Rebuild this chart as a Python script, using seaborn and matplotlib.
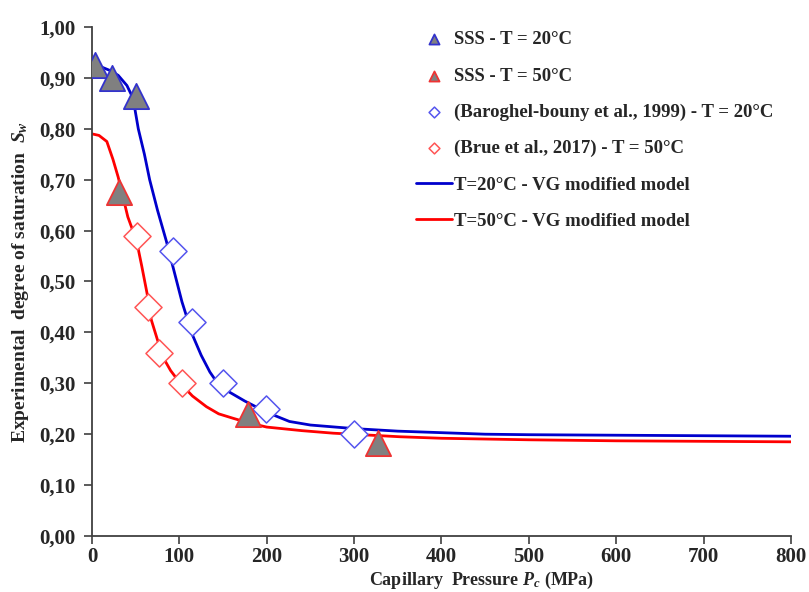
import numpy as np
import pandas as pd
import matplotlib.pyplot as plt
import matplotlib.ticker as mticker
import seaborn as sns

# ─── Data ─────────────────────────────────────────────────────────────────────
sss20_pc = [3, 23, 50]
sss20_sw = [0.925, 0.900, 0.865]

sss50_pc = [31, 178, 327]
sss50_sw = [0.675, 0.240, 0.182]

barog_pc = [93, 114, 150, 199, 300]
barog_sw = [0.560, 0.420, 0.300, 0.250, 0.200]

brue_pc = [52, 64, 77, 103]
brue_sw = [0.590, 0.450, 0.360, 0.300]

model20_pc = [0, 10, 20, 30, 40, 47, 53, 60, 66, 75, 85, 97, 103, 115, 125,
              135, 143, 155, 175, 200, 226, 250, 300, 350, 400, 450, 500,
              600, 700, 800]
model20_sw = [0.925, 0.922, 0.915, 0.905, 0.885, 0.860, 0.800, 0.750, 0.700,
              0.640, 0.580, 0.500, 0.460, 0.395, 0.355, 0.322, 0.302, 0.285,
              0.265, 0.243, 0.225, 0.218, 0.211, 0.206, 0.203, 0.200, 0.199,
              0.198, 0.197, 0.196]

model50_pc = [0, 8, 17, 24, 30, 41, 51, 57, 63, 68, 75, 81, 90, 101, 115,
              131, 145, 162, 180, 200, 240, 276, 352, 400, 500, 600, 700, 800]
model50_sw = [0.790, 0.787, 0.775, 0.740, 0.705, 0.627, 0.580, 0.530, 0.477,
              0.424, 0.385, 0.352, 0.325, 0.300, 0.275, 0.254, 0.240, 0.231,
              0.222, 0.214, 0.207, 0.202, 0.195, 0.192, 0.189, 0.187, 0.186,
              0.185]

labels = ['SSS - T = 20°C', 'SSS - T = 50°C',
          '(Baroghel-bouny et al., 1999) - T = 20°C',
          '(Brue et al., 2017) - T = 50°C',
          'T=20°C - VG modified model', 'T=50°C - VG modified model']

# ─── Style ────────────────────────────────────────────────────────────────────
sns.set_style('ticks')
plt.rcParams['font.family'] = ['Liberation Serif', 'DejaVu Serif']
plt.rcParams['font.weight'] = 'bold'
plt.rcParams['mathtext.fontset'] = 'custom'
plt.rcParams['mathtext.it'] = 'Liberation Serif:italic'
plt.rcParams['mathtext.rm'] = 'Liberation Serif:bold'

fig = plt.figure(figsize=(8.09, 5.92), dpi=100)
ax = fig.add_axes([0.1137, 0.0946, 0.864, 0.8598])

blue, red = '#0000CC', '#FF0000'

sns.lineplot(x=model20_pc, y=model20_sw, ax=ax, color=blue, lw=2,
             sort=False, label=labels[4], zorder=2)
sns.lineplot(x=model50_pc, y=model50_sw, ax=ax, color=red, lw=2,
             sort=False, label=labels[5], zorder=2)

sns.scatterplot(x=barog_pc, y=barog_sw, ax=ax, marker='D', s=190,
                facecolor='white', edgecolor='#5555EE', linewidth=1.1,
                label=labels[2], zorder=3)
sns.scatterplot(x=brue_pc, y=brue_sw, ax=ax, marker='D', s=190,
                facecolor='white', edgecolor='#FF5555', linewidth=1.1,
                label=labels[3], zorder=3)
sns.scatterplot(x=sss20_pc, y=sss20_sw, ax=ax, marker='^', s=330,
                facecolor='#808080', edgecolor='#3333CC', linewidth=1.3,
                label=labels[0], zorder=4)
sns.scatterplot(x=sss50_pc, y=sss50_sw, ax=ax, marker='^', s=330,
                facecolor='#808080', edgecolor='#EE3333', linewidth=1.3,
                label=labels[1], zorder=4)

# ─── Axes ─────────────────────────────────────────────────────────────────────
ax.set_xlim(0, 800)
ax.set_ylim(0, 1.0)
ax.xaxis.set_major_locator(mticker.MultipleLocator(100))
ax.yaxis.set_major_locator(mticker.MultipleLocator(0.1))
ax.yaxis.set_major_formatter(
    mticker.FuncFormatter(lambda v, p: f'{v:.2f}'.replace('.', ',')))
sns.despine(ax=ax)
for side in ['left', 'bottom']:
    ax.spines[side].set_color('#404040')
    ax.spines[side].set_linewidth(1.3)
ax.tick_params(axis='both', direction='out', length=6, width=1.2,
               color='#404040', labelsize=15, pad=6)
ax.tick_params(axis='x', pad=2)
for t in ax.get_xticklabels() + ax.get_yticklabels():
    t.set_fontweight('bold')

ax.set_xlabel('Capillary  Pressure $P_c$ (MPa)', fontsize=13,
              fontweight='bold')
ax.xaxis.set_label_coords(0.557, -0.067)
ax.set_ylabel('Experimental  degree of saturation  $S_w$', fontsize=14,
              fontweight='bold', labelpad=6)

# ─── Legend ───────────────────────────────────────────────────────────────────
handles, labs = ax.get_legend_handles_labels()
order = [labs.index(l) for l in labels]
leg = ax.legend([handles[i] for i in order], [labs[i] for i in order],
                loc='upper left', bbox_to_anchor=(0.505, 0.960),
                bbox_transform=fig.transFigure, frameon=False,
                fontsize=13.5, markerscale=0.4, handlelength=1.9,
                handletextpad=0.1, labelspacing=1.02, borderaxespad=0)
for t in leg.get_texts():
    t.set_fontweight('bold')

fig.savefig('out.png', dpi=100)
